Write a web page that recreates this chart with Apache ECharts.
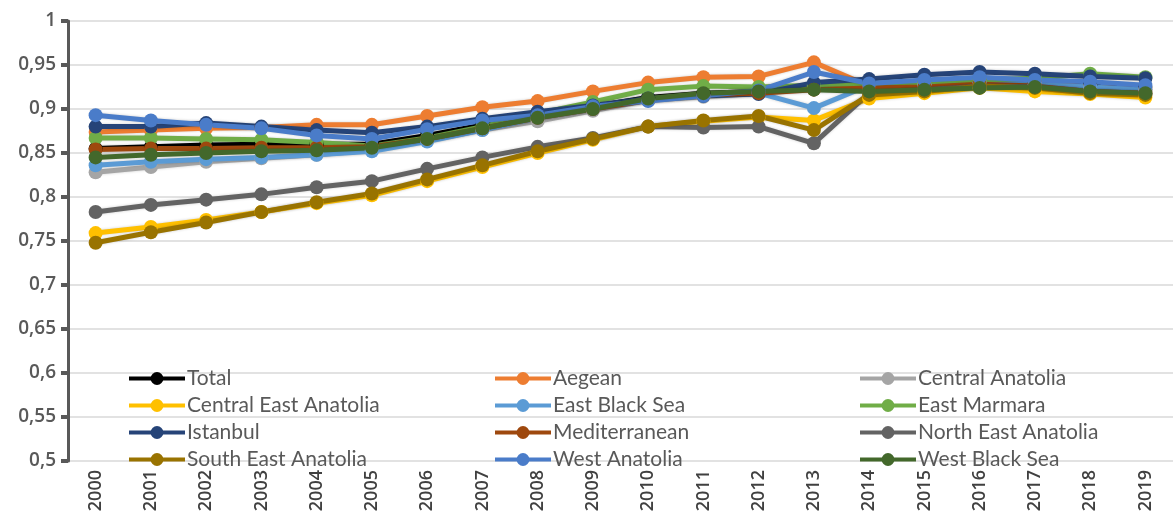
<!DOCTYPE html>
<html>
<head>
<meta charset="utf-8">
<script src="https://cdn.jsdelivr.net/npm/echarts@6/dist/echarts.min.js"></script>
<style>
  html, body { margin: 0; padding: 0; background: #fff; }
  #chart { width: 1173px; height: 521px; }
</style>
</head>
<body>
<div id="chart"></div>
<script>
// years on the category axis
const years = ["2000", "2001", "2002", "2003", "2004", "2005", "2006", "2007", "2008", "2009",
  "2010", "2011", "2012", "2013", "2014", "2015", "2016", "2017", "2018", "2019"];

// values per region
const total = [0.855, 0.857, 0.859, 0.860, 0.860, 0.860, 0.870, 0.882, 0.893, 0.903, 0.913, 0.918, 0.920, 0.925, 0.926, 0.928, 0.931, 0.930, 0.927, 0.925];
const aegean = [0.874, 0.876, 0.878, 0.879, 0.882, 0.882, 0.892, 0.902, 0.909, 0.920, 0.930, 0.936, 0.937, 0.953, 0.926, 0.928, 0.932, 0.930, 0.925, 0.922];
const centralAnatolia = [0.828, 0.834, 0.840, 0.844, 0.848, 0.853, 0.864, 0.876, 0.886, 0.898, 0.910, 0.914, 0.918, 0.925, 0.925, 0.928, 0.930, 0.928, 0.925, 0.922];
const centralEastAnatolia = [0.759, 0.766, 0.774, 0.783, 0.793, 0.802, 0.818, 0.834, 0.850, 0.865, 0.880, 0.886, 0.891, 0.887, 0.912, 0.918, 0.924, 0.920, 0.917, 0.913];
const eastBlackSea = [0.836, 0.840, 0.843, 0.845, 0.848, 0.852, 0.863, 0.876, 0.890, 0.900, 0.910, 0.915, 0.918, 0.901, 0.927, 0.928, 0.930, 0.928, 0.925, 0.922];
const eastMarmara = [0.867, 0.867, 0.866, 0.865, 0.862, 0.858, 0.867, 0.880, 0.895, 0.908, 0.922, 0.926, 0.925, 0.927, 0.928, 0.930, 0.933, 0.935, 0.940, 0.936];
const istanbul = [0.880, 0.880, 0.884, 0.880, 0.876, 0.873, 0.880, 0.889, 0.897, 0.904, 0.912, 0.915, 0.917, 0.930, 0.934, 0.939, 0.942, 0.940, 0.937, 0.935];
const mediterranean = [0.854, 0.855, 0.855, 0.856, 0.856, 0.857, 0.866, 0.878, 0.890, 0.900, 0.910, 0.916, 0.918, 0.922, 0.924, 0.925, 0.928, 0.926, 0.920, 0.918];
const northEastAnatolia = [0.783, 0.791, 0.797, 0.803, 0.811, 0.818, 0.832, 0.845, 0.857, 0.867, 0.880, 0.879, 0.880, 0.861, 0.918, 0.922, 0.926, 0.925, 0.920, 0.917];
const southEastAnatolia = [0.748, 0.760, 0.771, 0.783, 0.794, 0.804, 0.820, 0.836, 0.852, 0.866, 0.880, 0.887, 0.892, 0.876, 0.916, 0.920, 0.926, 0.924, 0.918, 0.916];
const westAnatolia = [0.893, 0.887, 0.882, 0.878, 0.870, 0.866, 0.877, 0.887, 0.893, 0.903, 0.909, 0.915, 0.921, 0.942, 0.929, 0.933, 0.936, 0.933, 0.931, 0.927];
const westBlackSea = [0.845, 0.848, 0.850, 0.852, 0.853, 0.856, 0.866, 0.878, 0.890, 0.900, 0.912, 0.918, 0.920, 0.922, 0.920, 0.922, 0.924, 0.925, 0.920, 0.918];

const names = ["Total", "Aegean", "Central Anatolia", "Central East Anatolia", "East Black Sea", "East Marmara",
  "Istanbul", "Mediterranean", "North East Anatolia", "South East Anatolia", "West Anatolia", "West Black Sea"];
const colors = ["#000000", "#ED7D31", "#A5A5A5", "#FFC000", "#5B9BD5", "#70AD47",
  "#264478", "#9E480E", "#636363", "#997300", "#4A7CC9", "#43682B"];
const values = [total, aegean, centralAnatolia, centralEastAnatolia, eastBlackSea, eastMarmara,
  istanbul, mediterranean, northEastAnatolia, southEastAnatolia, westAnatolia, westBlackSea];

const myChart = echarts.init(document.getElementById("chart"));

const series = names.map(function (n, i) {
  return {
    name: n,
    type: "line",
    data: values[i],
    symbol: "circle",
    symbolSize: 14,
    color: colors[i],
    lineStyle: { width: 5, color: colors[i], shadowColor: "rgba(0,0,0,0.2)", shadowBlur: 3 },
    itemStyle: { color: colors[i] },
    animation: false,
  };
});

// legend in three columns
function legendCol(left, data) {
  return {
    left: left,
    top: 363,
    orient: "vertical",
    itemGap: 6,
    itemWidth: 56,
    itemHeight: 16,
    data: data,
    lineStyle: { width: 4, shadowBlur: 0 },
    textStyle: { color: "#595959", fontSize: 21, fontFamily: "Lato", padding: [0, 0, 0, -3] },
  };
}

const option = {
  backgroundColor: "#ffffff",
  grid: { left: 68, right: 0, top: 21, bottom: 60 },
  legend: [
    legendCol(122, ["Total", "Central East Anatolia", "Istanbul", "South East Anatolia"]),
    legendCol(488, ["Aegean", "East Black Sea", "Mediterranean", "West Anatolia"]),
    legendCol(853, ["Central Anatolia", "East Marmara", "North East Anatolia", "West Black Sea"]),
  ],
  xAxis: {
    type: "category",
    data: years,
    boundaryGap: true,
    axisLine: { show: false },
    axisTick: { show: false },
    axisLabel: {
      rotate: 90,
      margin: 9,
      color: "#404040",
      fontSize: 18,
      fontWeight: 600,
      fontFamily: "Open Sans",
    },
  },
  yAxis: {
    type: "value",
    min: 0.5,
    max: 1,
    interval: 0.05,
    axisLine: { show: true, lineStyle: { color: "#595959", width: 3 } },
    axisTick: { show: true, length: 7, lineStyle: { color: "#595959", width: 4 } },
    splitLine: { lineStyle: { color: "#D9D9D9", width: 1.5 } },
    axisLabel: {
      margin: 12,
      color: "#595959",
      fontSize: 19,
      fontWeight: 600,
      fontFamily: "Open Sans",
      formatter: function (v) {
        return String(Math.round(v * 100) / 100).replace(".", ",");
      },
    },
  },
  series: series,
};
myChart.setOption(option);
</script>
</body>
</html>
